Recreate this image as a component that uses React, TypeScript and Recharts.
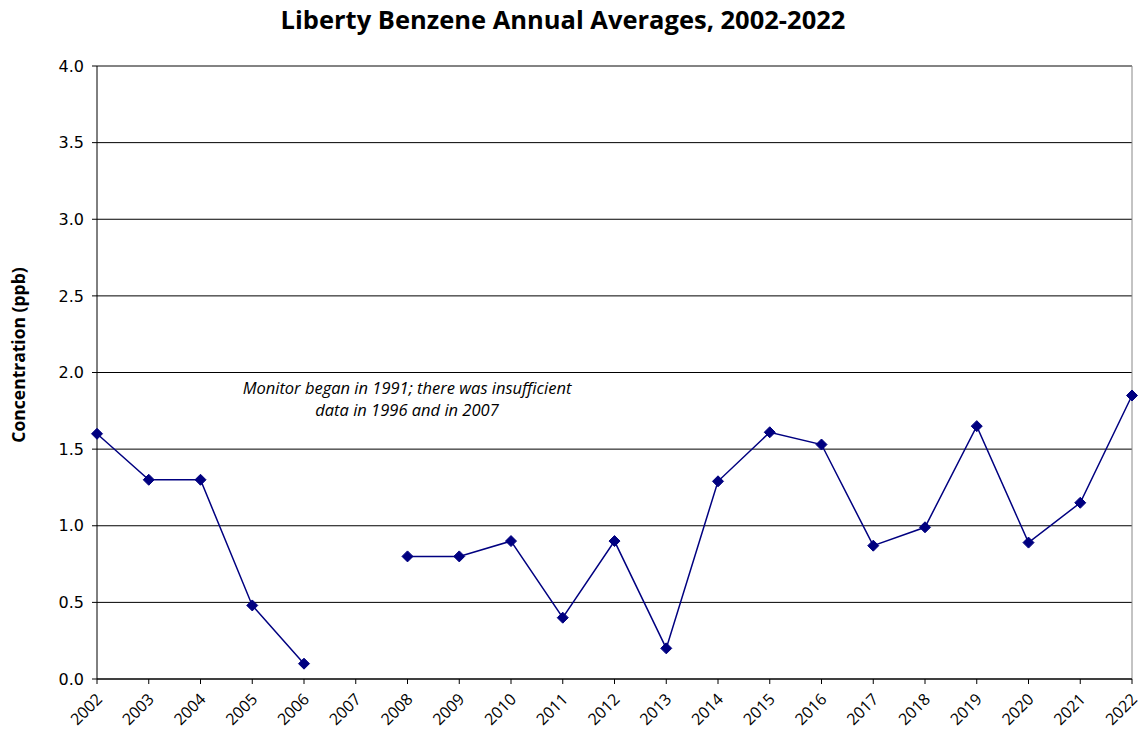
import { LineChart, Line, XAxis, YAxis, CartesianGrid, ReferenceLine } from 'recharts';

const years = [2002, 2003, 2004, 2005, 2006, 2007, 2008, 2009, 2010, 2011, 2012, 2013, 2014, 2015, 2016, 2017, 2018, 2019, 2020, 2021, 2022];
const benzene = [1.6, 1.3, 1.3, 0.48, 0.1, null, 0.8, 0.8, 0.9, 0.4, 0.9, 0.2, 1.29, 1.61, 1.53, 0.87, 0.99, 1.65, 0.89, 1.15, 1.85];
const yTicks = [0, 0.5, 1, 1.5, 2, 2.5, 3, 3.5, 4];

const data = years.map((year, i) => ({ year, value: benzene[i] }));

const Diamond = (props: any) => {
  const { cx, cy, index } = props;
  if (cx == null || cy == null || props.value == null) return <g key={index} />;
  const r = 5.5;
  return (
    <polygon
      key={index}
      points={`${cx},${cy - r} ${cx + r},${cy} ${cx},${cy + r} ${cx - r},${cy}`}
      fill="#000080"
      stroke="#000080"
    />
  );
};

const XTick = (props: any) => {
  const { x, y, payload } = props;
  const ax = x + 2;
  const ay = y + 10;
  return (
    <text
      x={ax}
      y={ay}
      transform={`rotate(-45, ${ax}, ${ay})`}
      textAnchor="end"
      dominantBaseline="central"
      fontSize={16}
      fontFamily="'Open Sans', sans-serif"
      fill="#000"
    >
      {payload.value}
    </text>
  );
};

export default function App() {
  return (
    <div style={{ position: 'absolute', left: 0, top: 0, width: 1142, height: 734, background: '#fff', fontFamily: "'Open Sans', sans-serif" }}>
      <div style={{ position: 'absolute', left: -8, top: 2, width: 1142, textAlign: 'center', fontSize: 25.5, fontWeight: 700 }}>
        Liberty Benzene Annual Averages, 2002-2022
      </div>
      <LineChart width={1142} height={734} data={data} margin={{ top: 66, right: 10, bottom: 5, left: 37 }} style={{ overflow: 'visible' }}>
        <CartesianGrid vertical={false} stroke="#000" strokeWidth={1} />
        <XAxis
          dataKey="year"
          type="number"
          domain={[2002, 2022]}
          ticks={years}
          interval={0}
          height={50}
          tick={<XTick />}
          axisLine={{ stroke: '#000' }}
          tickLine={{ stroke: '#000' }}
          tickSize={5}
        />
        <YAxis
          domain={[0, 4]}
          ticks={yTicks}
          width={60}
          tickFormatter={(v: number) => v.toFixed(1)}
          tick={{ fontSize: 16, fill: '#000', fontFamily: 'DejaVu Sans' }}
          axisLine={{ stroke: '#000' }}
          tickLine={{ stroke: '#000' }}
          tickSize={5}
          tickMargin={8}
        />
        <ReferenceLine y={4} stroke="#888" />
        <ReferenceLine x={2022} stroke="#888" />
        <Line
          dataKey="value"
          stroke="#000080"
          strokeWidth={1.5}
          dot={<Diamond />}
          activeDot={false}
          connectNulls={false}
          isAnimationActive={false}
        />
      </LineChart>
      <div
        style={{
          position: 'absolute',
          left: 18 - 120,
          top: 355 - 12,
          width: 240,
          height: 24,
          lineHeight: '24px',
          textAlign: 'center',
          fontSize: 17.5,
          fontWeight: 700,
          transform: 'rotate(-90deg)',
        }}
      >
        Concentration (ppb)
      </div>
      <div style={{ position: 'absolute', left: 207, top: 377, width: 400, textAlign: 'center', fontSize: 16.5, fontStyle: 'italic', lineHeight: '22px' }}>
        Monitor began in 1991; there was insufficient
        <br />
        data in 1996 and in 2007
      </div>
    </div>
  );
}
